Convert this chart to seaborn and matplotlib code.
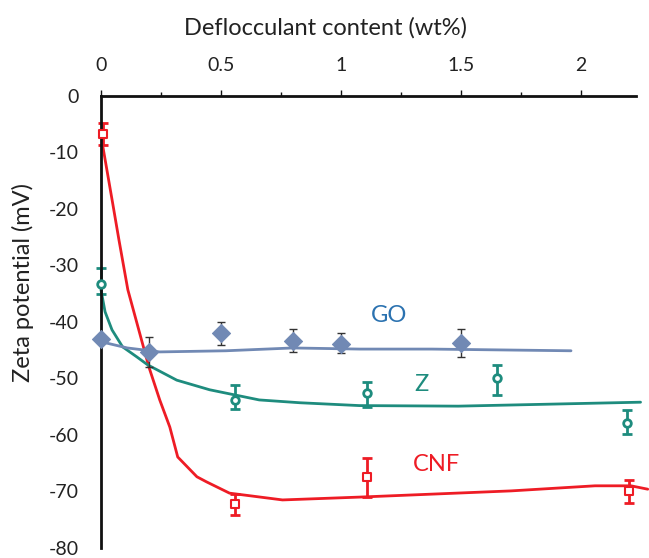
import numpy as np
import pandas as pd
import seaborn as sns
import matplotlib.pyplot as plt

# measured points (wt%, mV) with error bar ends
CNF_X = [0.01, 0.56, 1.11, 2.20]
CNF_Y = [-6.8, -72.2, -67.5, -70.0]
CNF_LO = [-8.7, -74.2, -71.0, -72.0]
CNF_HI = [-4.8, -70.4, -64.0, -68.0]

Z_X = [0.0, 0.56, 1.11, 1.65, 2.195]
Z_Y = [-33.2, -53.8, -52.5, -50.0, -57.8]
Z_LO = [-35.0, -55.4, -55.0, -52.9, -59.8]
Z_HI = [-30.4, -51.2, -50.6, -47.6, -55.6]

GO_X = [0.0, 0.2, 0.5, 0.8, 1.0, 1.5]
GO_Y = [-43.0, -45.3, -42.0, -43.3, -43.9, -43.7]
GO_LO = [-43.0, -48.0, -44.0, -45.3, -45.5, -46.2]
GO_HI = [-43.0, -42.6, -40.0, -41.3, -42.0, -41.2]

# fitted curves as drawn
CNF_FIT_X = [0.008, 0.05, 0.075, 0.112, 0.2, 0.245, 0.287, 0.32, 0.4, 0.44, 0.536,
             0.757, 1.077, 1.71, 2.06, 2.21, 2.28]
CNF_FIT_Y = [-9.0, -19.3, -25.5, -34.3, -48.0, -53.8, -58.6, -63.9, -67.4, -68.3, -70.3,
             -71.5, -71.0, -69.9, -69.0, -69.0, -69.6]
Z_FIT_X = [0.0, 0.017, 0.046, 0.09, 0.15, 0.195, 0.316, 0.453, 0.66, 0.83, 1.077, 1.49, 2.25]
Z_FIT_Y = [-34.3, -38.2, -41.4, -44.4, -46.2, -47.6, -50.3, -52.0, -53.8, -54.3, -54.8, -54.9, -54.2]
GO_FIT_X = [0.0, 0.11, 0.245, 0.52, 0.8, 1.08, 1.38, 1.96]
GO_FIT_Y = [-43.5, -44.6, -45.3, -45.1, -44.6, -44.8, -44.8, -45.1]

RED = '#ee1c25'
TEAL = '#1e8c7e'
GOBLUE = '#7189b4'

sns.set_style('white')
plt.rcParams['font.family'] = ['Lato', 'DejaVu Sans']
plt.rcParams['axes.unicode_minus'] = False

fig = plt.figure(figsize=(6.49, 5.58), dpi=100)
ax = fig.add_axes([0.1556, 0.018, 0.824, 0.81])

fits = [(CNF_FIT_X, CNF_FIT_Y, RED), (Z_FIT_X, Z_FIT_Y, TEAL), (GO_FIT_X, GO_FIT_Y, GOBLUE)]
for fx, fy, c in fits:
    sns.lineplot(x=fx, y=fy, ax=ax, color=c, lw=2, sort=False, clip_on=False)

# error bars
ax.errorbar(CNF_X, CNF_Y, yerr=[np.array(CNF_Y) - CNF_LO, np.array(CNF_HI) - CNF_Y],
            fmt='none', ecolor=RED, elinewidth=2, capsize=3.8, capthick=2, clip_on=False)
ax.errorbar(Z_X, Z_Y, yerr=[np.array(Z_Y) - Z_LO, np.array(Z_HI) - Z_Y],
            fmt='none', ecolor=TEAL, elinewidth=2, capsize=3.8, capthick=2, clip_on=False)
ax.errorbar(GO_X, GO_Y, yerr=[np.array(GO_Y) - GO_LO, np.array(GO_HI) - GO_Y],
            fmt='none', ecolor='#333333', elinewidth=1, capsize=2.6, capthick=1, clip_on=False)

# markers
sns.scatterplot(x=CNF_X, y=CNF_Y, ax=ax, marker='s', s=28, facecolor='white',
                edgecolor=RED, linewidth=1.5, zorder=5, clip_on=False)
sns.scatterplot(x=Z_X, y=Z_Y, ax=ax, marker='o', s=30, facecolor='white',
                edgecolor=TEAL, linewidth=2, zorder=5, clip_on=False)
sns.scatterplot(x=GO_X, y=GO_Y, ax=ax, marker='D', s=85, color=GOBLUE,
                edgecolor=GOBLUE, zorder=5, clip_on=False)

ax.text(1.20, -38.9, 'GO', color='#2b72b0', fontsize=17, ha='center', va='center')
ax.text(1.335, -51.0, 'Z', color=TEAL, fontsize=17, ha='center', va='center')
ax.text(1.40, -65.3, 'CNF', color=RED, fontsize=17, ha='center', va='center')

ax.set_xlim(0, 2.23)
ax.set_ylim(-80, 0)
ax.set_xticks([0, 0.5, 1, 1.5, 2])
ax.set_xticklabels(['0', '0.5', '1', '1.5', '2'])
ax.set_xticks(np.arange(0.25, 2.2, 0.5), minor=True)
ax.set_yticks(np.arange(-80, 1, 10))
ax.set_yticks(np.arange(-75, 0, 10), minor=True)

ax.xaxis.set_ticks_position('top')
ax.xaxis.set_label_position('top')
for s in ['right', 'bottom']:
    ax.spines[s].set_visible(False)
for s in ['left', 'top']:
    ax.spines[s].set_color('#111111')
    ax.spines[s].set_linewidth(2)

ax.tick_params(axis='both', which='both', direction='out', color='#111111',
               labelsize=14, labelcolor='#222222')
ax.tick_params(axis='x', which='major', length=4.5, width=1, pad=11)
ax.tick_params(axis='x', which='minor', length=3.2, width=1)
ax.tick_params(axis='y', which='major', length=6, width=1.5, pad=10)
ax.tick_params(axis='y', which='minor', length=3.5, width=1)

ax.set_xlabel('Deflocculant content (wt%)', fontsize=17, color='#222222')
ax.xaxis.set_label_coords(0.42, 1.135)
ax.set_ylabel('Zeta potential (mV)', fontsize=17, color='#222222')
ax.yaxis.set_label_coords(-0.125, 0.588)

fig.savefig('out.png', dpi=100)
